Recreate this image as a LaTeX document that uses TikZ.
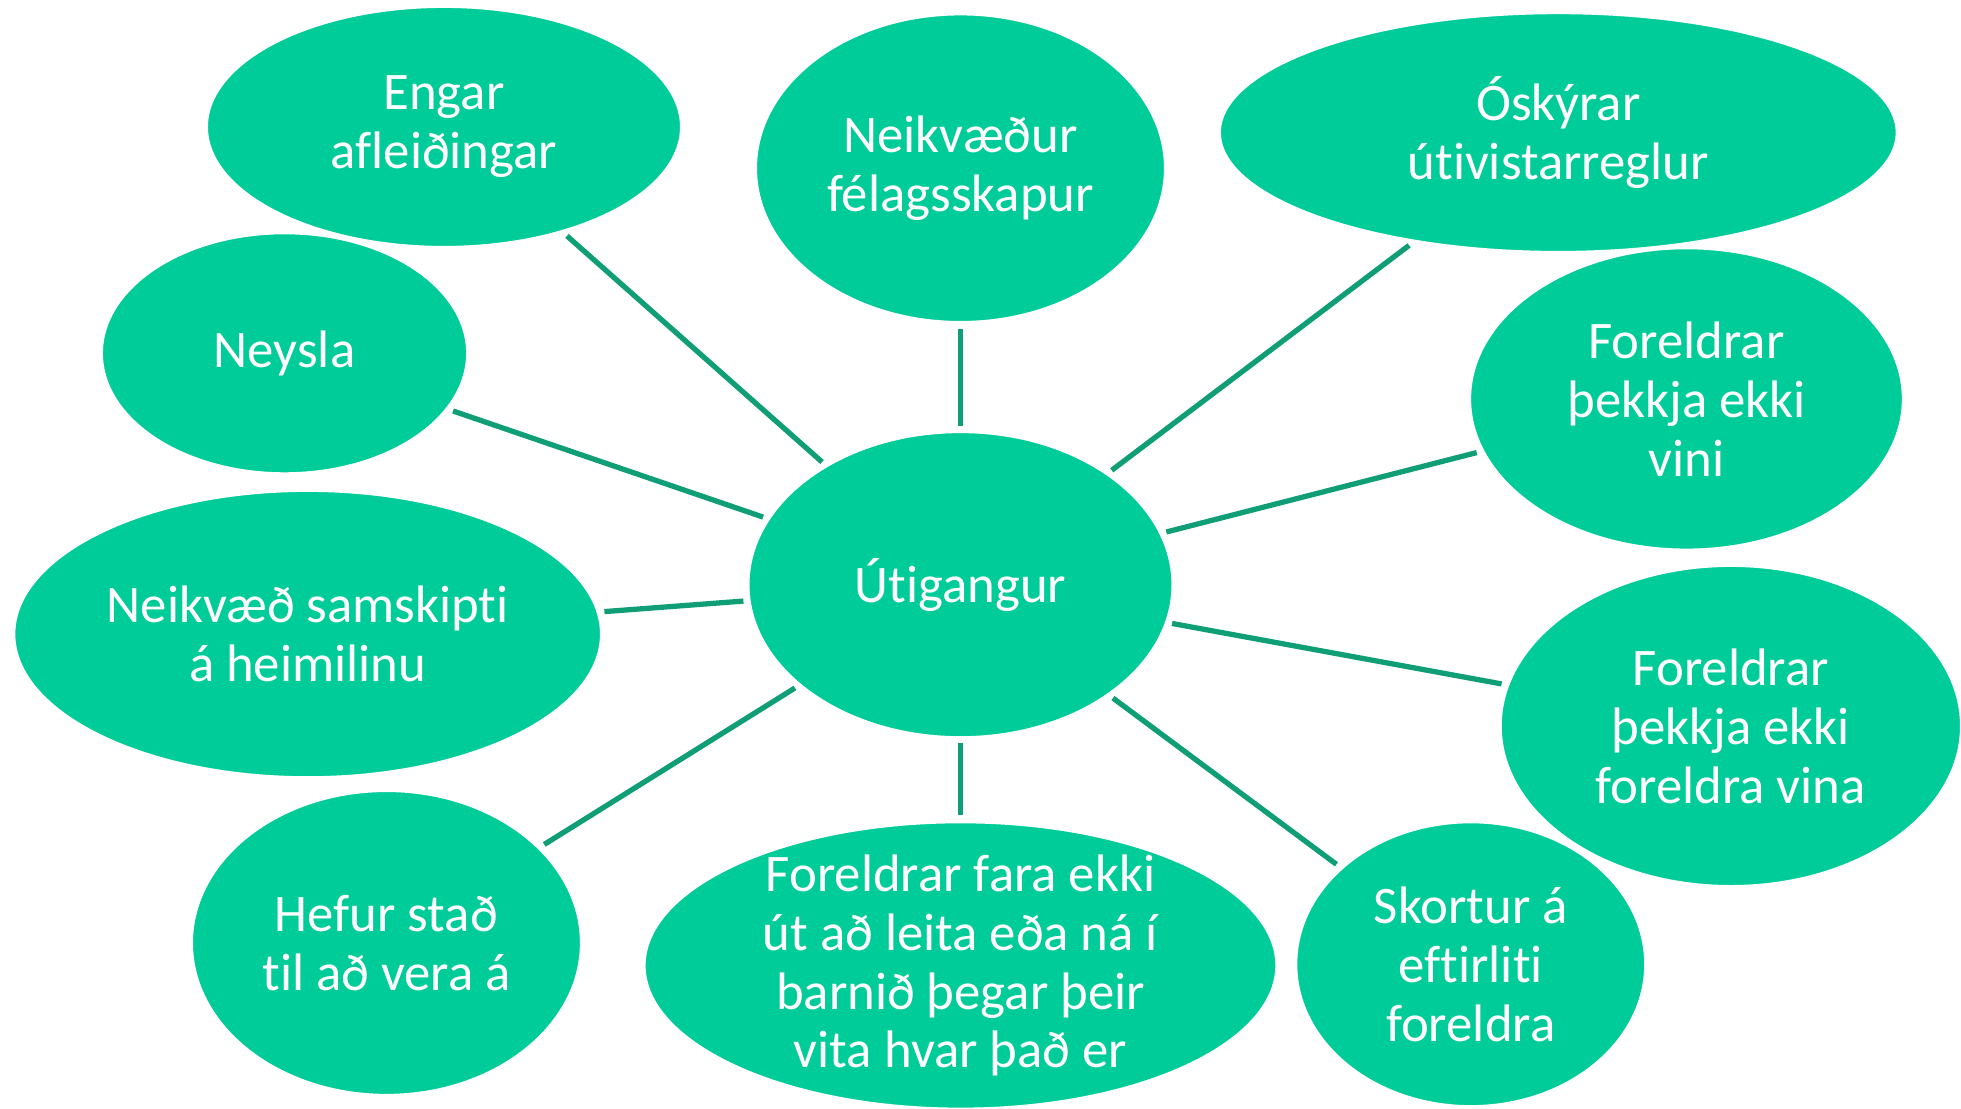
\documentclass[tikz,border=0pt]{standalone}
\usepackage{fontspec}
\setmainfont{Carlito}[RawFeature={-liga;-clig;-calt;-dlig;-rlig}]
\usetikzlibrary{shapes.geometric}
\definecolor{bubblefill}{HTML}{00CC99}
\definecolor{linkcol}{HTML}{109E77}
\tikzset{
  bubble/.style={ellipse, fill=bubblefill, draw=white, line width=0.8pt, inner sep=0pt},
  txt/.style={text=white, align=center, font=\fontsize{12}{13.4}\selectfont, inner sep=0pt},
  conn/.style={draw=linkcol, line width=1.2pt, shorten <=0.035cm, shorten >=0.03cm}
}
\begin{document}
\begin{tikzpicture}[x=0.01cm, y=-0.01cm]
\useasboundingbox (0,0) rectangle (1568,886);
% ellipses (order matters for overlaps)
\node[bubble, minimum width=2.93cm, minimum height=1.93cm] (n4) at (227.5,282.5) {};
\node[bubble, minimum width=3.80cm, minimum height=1.93cm] (n1) at (355,101.5) {};
\node[bubble, minimum width=3.28cm, minimum height=2.47cm] (n2) at (768,134.5) {};
\node[bubble, minimum width=3.47cm, minimum height=2.42cm] (n5) at (1348.5,319) {};
\node[bubble, minimum width=5.42cm, minimum height=1.92cm] (n3) at (1246,106) {};
\node[bubble, minimum width=3.40cm, minimum height=2.45cm] (c) at (768,467.5) {};
\node[bubble, minimum width=4.70cm, minimum height=2.30cm] (n7) at (246,507) {};
\node[bubble, minimum width=2.80cm, minimum height=2.28cm] (n11) at (1176,771) {};
\node[bubble, minimum width=3.69cm, minimum height=2.57cm] (n8) at (1384,580.5) {};
\node[bubble, minimum width=3.12cm, minimum height=2.44cm] (n9) at (309,754) {};
\node[bubble, minimum width=5.06cm, minimum height=2.30cm] (n10) at (768,772) {};
% texts
\node[txt] (t1) at (n1.center) {Engar\\afleiðingar};
\node[txt] (t2) at (n2.center) {Neikvæður\\félagsskapur};
\node[txt] (t3) at (n3.center) {Óskýrar\\útivistarreglur};
\node[txt] (t4) at (n4.center) {Neysla};
\node[txt] (t5) at (n5.center) {Foreldrar\\þekkja ekki\\vini};
\node[txt] (tc) at (c.center) {Útigangur};
\node[txt] (t7) at (n7.center) {Neikvæð samskipti\\á heimilinu};
\node[txt] (t8) at (n8.center) {Foreldrar\\þekkja ekki\\foreldra vina};
\node[txt] (t9) at (n9.center) {Hefur stað\\til að vera á};
\node[txt] (t10) at (n10.center) {Foreldrar fara ekki\\út að leita eða ná í\\barnið þegar þeir\\vita hvar það er};
\node[txt] (t11) at (n11.center) {Skortur á\\eftirliti\\foreldra};
% connectors
\draw[conn] (n1) -- (c);
\draw[conn] (n2) -- (c);
\draw[conn] (n3) -- (c);
\draw[conn] (n4) -- (c);
\draw[conn] (n5) -- (c);
\draw[conn] (n7) -- (c);
\draw[conn] (n8) -- (c);
\draw[conn] (n9) -- (c);
\draw[conn] (n10) -- (c);
\draw[conn] (n11) -- (c);
\end{tikzpicture}
\end{document}
